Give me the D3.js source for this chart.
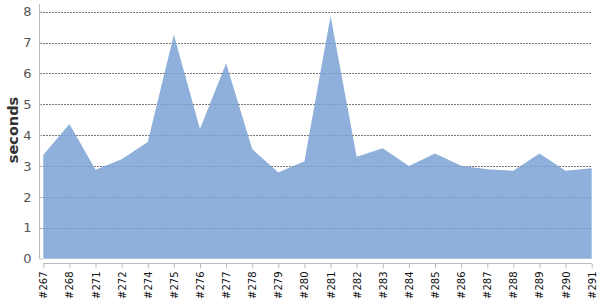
<!DOCTYPE html>
<html>
<head>
<meta charset="utf-8">
<script src="https://cdn.jsdelivr.net/npm/d3@7"></script>
<style>
  body { margin: 0; background: #fff; }
  svg { display: block; font-family: "DejaVu Sans", sans-serif; }
</style>
</head>
<body>
<div id="chart"></div>
<script>
// build numbers along the x axis
var builds = ["#267", "#268", "#271", "#272", "#274", "#275", "#276", "#277", "#278", "#279",
              "#280", "#281", "#282", "#283", "#284", "#285", "#286", "#287", "#288", "#289",
              "#290", "#291"];
// duration in seconds per build
var durations = [3.36, 4.36, 2.88, 3.22, 3.78, 7.25, 4.2, 6.33, 3.55, 2.79,
                 3.16, 7.86, 3.3, 3.58, 3.0, 3.41, 3.01, 2.9, 2.85, 3.41,
                 2.85, 2.93];
var yTicks = [0, 1, 2, 3, 4, 5, 6, 7, 8];

var width = 600, height = 300;
var margin = {top: 11.7, right: 8.3, bottom: 41.3, left: 43.3};

var svg = d3.select("#chart").append("svg")
    .attr("width", width)
    .attr("height", height);

var x = d3.scalePoint()
    .domain(builds)
    .range([margin.left, width - margin.right]);

var y = d3.scaleLinear()
    .domain([0, 8])
    .range([height - margin.bottom, margin.top]);

// gridlines
svg.append("g")
    .selectAll("line")
    .data(yTicks.filter(function(d) { return d > 0; }))
    .enter().append("line")
    .attr("x1", 40)
    .attr("x2", width - margin.right)
    .attr("y1", function(d) { return Math.round(y(d)) + 0.5; })
    .attr("y2", function(d) { return Math.round(y(d)) + 0.5; })
    .attr("stroke", "#777")
    .attr("stroke-dasharray", "2,1");

// area
var area = d3.area()
    .x(function(d, i) { return x(builds[i]); })
    .y0(y(0))
    .y1(function(d) { return y(d); });

svg.append("path")
    .datum(durations)
    .attr("d", area)
    .attr("fill", "#7aa2d3")
    .attr("fill-opacity", 0.85);

// y axis
var yAxis = d3.axisLeft(y)
    .tickValues(yTicks)
    .tickSize(0)
    .tickPadding(8);

var gy = svg.append("g")
    .attr("transform", "translate(39.5,0)")
    .call(yAxis);
gy.select(".domain").remove();
gy.append("line")
    .attr("x1", 0).attr("x2", 0)
    .attr("y1", 4).attr("y2", y(0))
    .attr("stroke", "#bbb");
gy.selectAll(".tick line").remove();
gy.selectAll(".tick")
    .append("line")
    .attr("x1", 0).attr("x2", 3)
    .attr("stroke", "#bbb");
gy.selectAll(".tick text")
    .attr("fill", "#555")
    .attr("font-size", 13)
    .attr("font-family", "DejaVu Sans, sans-serif");

// x axis
var xAxis = d3.axisBottom(x)
    .tickSize(5)
    .tickPadding(4);

var gx = svg.append("g")
    .attr("transform", "translate(0,263.5)")
    .call(xAxis);
gx.select(".domain")
    .attr("stroke", "#bbb")
    .attr("d", "M" + x.range()[0] + ",0H" + x.range()[1]);
gx.selectAll(".tick line").attr("stroke", "#bbb");
gx.selectAll(".tick text")
    .attr("fill", "#111")
    .attr("font-size", 10)
    .attr("font-family", "DejaVu Sans, sans-serif")
    .attr("transform", "rotate(-90)")
    .attr("text-anchor", "end")
    .attr("dy", "0.35em")
    .attr("x", -8)
    .attr("y", 0);

// axis title
svg.append("text")
    .attr("transform", "translate(17.5,130) rotate(-90)")
    .attr("text-anchor", "middle")
    .attr("font-size", 14.5)
    .attr("font-weight", "bold")
    .attr("fill", "#333")
    .text("seconds");
</script>
</body>
</html>
